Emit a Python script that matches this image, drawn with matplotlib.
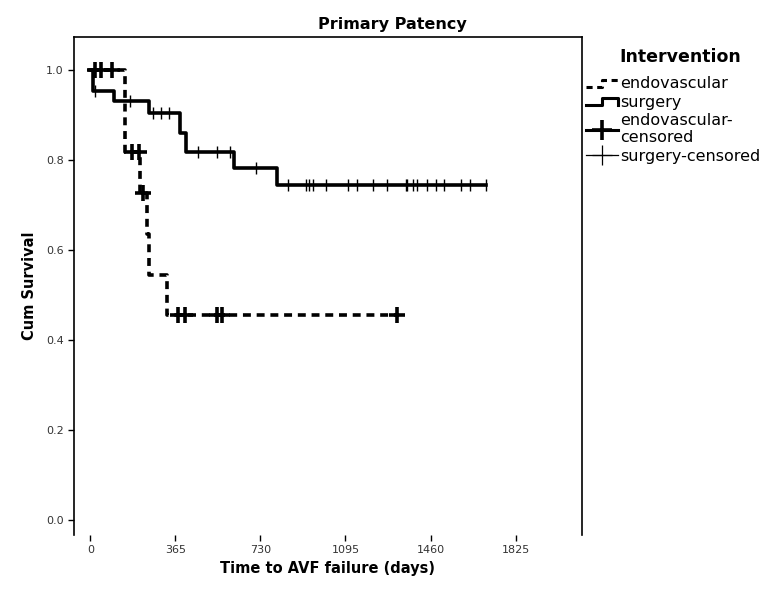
import numpy as np
import matplotlib
matplotlib.use("Agg")
import matplotlib.pyplot as plt
from matplotlib.lines import Line2D
from matplotlib.legend_handler import HandlerBase

# ---------------- data (days, cumulative survival) ----------------
endo_times = [0, 150, 213, 243, 252, 329, 1316]
endo_surv = [1.0, 0.818, 0.727, 0.636, 0.545, 0.455, 0.455]
endo_cens_t = [22, 45, 95, 179, 209, 226, 376, 406, 544, 565, 1316]
endo_cens_s = [1.0, 1.0, 1.0, 0.818, 0.818, 0.727, 0.455, 0.455, 0.455, 0.455, 0.455]

surg_times = [0, 10, 100, 250, 385, 411, 615, 801, 1699]
surg_surv = [1.0, 0.953, 0.930, 0.905, 0.860, 0.818, 0.782, 0.744, 0.744]
surg_cens_t = [22, 170, 269, 304, 338, 463, 544, 600, 711,
               848, 926, 939, 956, 1012, 1106, 1145, 1214, 1273, 1355, 1359,
               1385, 1402, 1445, 1484, 1518, 1591, 1630, 1699]
surg_cens_s = [0.953, 0.930, 0.905, 0.905, 0.905, 0.818, 0.818, 0.818, 0.782] + [0.744] * 19

x_ticks = [0, 365, 730, 1095, 1460, 1825]
y_ticks = [0.0, 0.2, 0.4, 0.6, 0.8, 1.0]
legend_title = "Intervention"
legend_labels = ["endovascular", "surgery", "endovascular-\ncensored", "surgery-censored"]

plt.rcParams['font.family'] = ['DejaVu Sans']

W, H = 764, 613
fig = plt.figure(figsize=(W / 100, H / 100), dpi=100)
ax = fig.add_axes([74 / W, 1 - 535 / H, (582 - 74) / W, (535 - 37) / H])

ax.step(endo_times, endo_surv, where='post', color='black', lw=2.6,
        linestyle=(0, (2.2, 1.6)), dash_capstyle='butt')
ax.step(surg_times, surg_surv, where='post', color='black', lw=2.6)
ax.plot(endo_cens_t, endo_cens_s, linestyle='none', marker='+', ms=11, mew=2.6, color='black')
ax.plot(surg_cens_t, surg_cens_s, linestyle='none', marker='|', ms=9, mew=1.0, color='black')

ax.set_xlim(-70, 2110)
ax.set_ylim(-0.033, 1.073)
ax.set_xticks(x_ticks)
ax.set_yticks(y_ticks)
ax.set_xticklabels([str(t) for t in x_ticks])
ax.set_yticklabels([f"{t:.1f}" for t in y_ticks])
ax.tick_params(axis='both', direction='out', length=4, width=1.0, labelsize=8,
               colors='black', labelcolor='#333333')
for s in ax.spines.values():
    s.set_linewidth(1.2)
ax.spines['bottom'].set_visible(False)

ax.set_xlabel("Time to AVF failure (days)", fontsize=10.5, fontweight='bold', labelpad=4)
ax.set_ylabel("Cum Survival", fontsize=10.5, fontweight='bold', labelpad=6)
fig.text(392 / W, 1 - 24 / H, "Primary Patency", ha='center', va='center',
         fontsize=11.5, fontweight='bold')


class StepHandler(HandlerBase):
    def __init__(self, ls, shape):
        super().__init__()
        self.ls = ls
        self.shape = shape

    def create_artists(self, legend, orig_handle, xdescent, ydescent,
                       width, height, fontsize, trans):
        lo = -ydescent + height * 0.1
        hi = -ydescent + height * 0.75
        x0 = -xdescent
        if self.shape == 'endo':
            xs = [x0, x0 + 0.5 * width, x0 + 0.5 * width, x0 + width]
            ys = [lo, lo, hi, hi]
        else:
            xs = [x0, x0 + 0.5 * width, x0 + 0.5 * width, x0 + width, x0 + width]
            ys = [lo, lo, hi, hi, lo]
        ln = Line2D(xs, ys, color='black', lw=2.2, linestyle=self.ls, transform=trans)
        return [ln]


h_endo = Line2D([], [], color='black')
h_surg = Line2D([], [], color='black')
h_ecens = Line2D([], [], color='black', lw=2.2, marker='+', ms=14, mew=2.6)
h_scens = Line2D([], [], color='black', lw=0.9, marker='+', ms=14, mew=0.9)

fig.text(619 / W, 1 - 57 / H, legend_title, ha='left', va='center',
         fontsize=12.5, fontweight='bold')
leg = fig.legend([h_endo, h_surg, h_ecens, h_scens], legend_labels,
                 handler_map={h_endo: StepHandler((0, (2.0, 1.5)), 'endo'),
                              h_surg: StepHandler('-', 'surg')},
                 loc='upper left', bbox_to_anchor=(586 / W, 1 - 76 / H),
                 frameon=False, fontsize=11.5,
                 handlelength=2.0, handletextpad=0.12, labelspacing=0.22,
                 borderpad=0.0, borderaxespad=0.0)

fig.savefig("out.png", dpi=100)
